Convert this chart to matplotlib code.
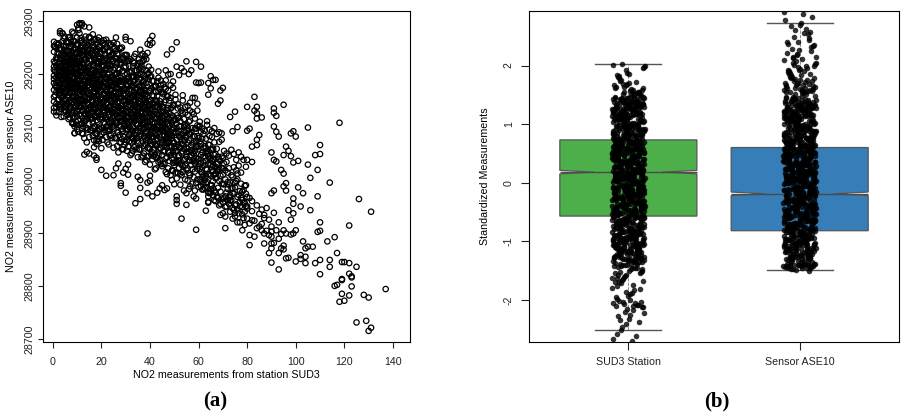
import matplotlib

matplotlib.use("Agg")
import matplotlib.pyplot as plt
import numpy as np

plt.rcParams["font.family"] = ["Liberation Sans", "DejaVu Sans"]

# (a) NO2 at reference station SUD3 (x) against sensor ASE10 (y)
sud3_core = [
    1, 1, 1, 1, 2, 2, 2, 2, 2, 2,
    2, 3, 3, 3, 3, 3, 3, 3, 3, 3,
    4, 4, 4, 4, 4, 4, 4, 4, 4, 4,
    4, 5, 5, 5, 5, 5, 5, 5, 5, 5,
    5, 5, 5, 6, 6, 6, 6, 6, 6, 6,
    6, 6, 6, 6, 6, 7, 7, 7, 7, 7,
    7, 7, 7, 7, 7, 7, 7, 7, 8, 8,
    8, 8, 8, 8, 8, 8, 8, 8, 8, 8,
    8, 9, 9, 9, 9, 9, 9, 9, 9, 9,
    9, 9, 9, 9, 10, 10, 10, 10, 10, 10,
    10, 10, 10, 10, 10, 10, 10, 10, 11, 11,
    11, 11, 11, 11, 11, 11, 11, 11, 11, 11,
    11, 11, 12, 12, 12, 12, 12, 12, 12, 12,
    12, 12, 12, 12, 12, 13, 13, 13, 13, 13,
    13, 13, 13, 13, 13, 13, 13, 13, 14, 14,
    14, 14, 14, 14, 14, 14, 14, 14, 14, 14,
    15, 15, 15, 15, 15, 15, 15, 15, 15, 15,
    15, 15, 16, 16, 16, 16, 16, 16, 16, 16,
    16, 16, 16, 16, 17, 17, 17, 17, 17, 17,
    17, 17, 17, 17, 17, 17, 18, 18, 18, 18,
    18, 18, 18, 18, 18, 18, 18, 18, 19, 19,
    19, 19, 19, 19, 19, 19, 19, 19, 20, 20,
    20, 20, 20, 20, 20, 20, 20, 20, 20, 20,
    21, 21, 21, 21, 21, 21, 21, 21, 21, 21,
    21, 22, 22, 22, 22, 22, 22, 22, 22, 22,
    22, 22, 23, 23, 23, 23, 23, 23, 23, 23,
    23, 23, 23, 24, 24, 24, 24, 24, 24, 24,
    24, 24, 24, 25, 25, 25, 25, 25, 25, 25,
    25, 25, 25, 26, 26, 26, 26, 26, 26, 26,
    26, 26, 26, 27, 27, 27, 27, 27, 27, 27,
    27, 27, 27, 28, 28, 28, 28, 28, 28, 28,
    28, 28, 28, 29, 29, 29, 29, 29, 29, 29,
    29, 29, 29, 30, 30, 30, 30, 30, 30, 30,
    30, 30, 30, 31, 31, 31, 31, 31, 31, 31,
    31, 31, 32, 32, 32, 32, 32, 32, 32, 32,
    32, 32, 33, 33, 33, 33, 33, 33, 33, 33,
    33, 33, 34, 34, 34, 34, 34, 34, 34, 34,
    34, 34, 35, 35, 35, 35, 35, 35, 35, 35,
    35, 35, 36, 36, 36, 36, 36, 36, 36, 36,
    36, 36, 37, 37, 37, 37, 37, 37, 37, 37,
    37, 37, 38, 38, 38, 38, 38, 38, 38, 38,
    38, 38, 39, 39, 39, 39, 39, 39, 39, 39,
    39, 39, 40, 40, 40, 40, 40, 40, 40, 40,
    40, 40, 41, 41, 41, 41, 41, 41, 41, 41,
    41, 41, 42, 42, 42, 42, 42, 42, 42, 42,
    42, 43, 43, 43, 43, 43, 43, 43, 43, 43,
    44, 44, 44, 44, 44, 44, 44, 44, 45, 45,
    45, 45, 45, 45, 45, 45, 46, 46, 46, 46,
    46, 46, 46, 46, 47, 47, 47, 47, 47, 47,
    47, 47, 48, 48, 48, 48, 48, 48, 48, 48,
    49, 49, 49, 49, 49, 49, 49, 50, 50, 50,
    50, 50, 50, 50, 51, 51, 51, 51, 51, 51,
    52, 52, 52, 52, 52, 52, 53, 53, 53, 53,
    53, 53, 54, 54, 54, 54, 54, 55, 55, 55,
    55, 55, 56, 56, 56, 56, 56, 57, 57, 57,
    57, 58, 58, 58, 58, 58, 59, 59, 59, 59,
    59, 60, 60, 60, 60, 60, 61, 61, 61, 61,
    61, 62, 62, 62, 62, 63, 63, 63, 63, 63,
    64, 64, 64, 64, 65, 65, 65, 65, 66, 66,
    66, 66, 67, 67, 67, 67, 68, 68, 68, 69,
    69, 69, 70, 70, 70, 71, 71, 71, 72, 72,
    73, 73, 73, 74, 74, 75, 75, 75, 76, 76,
    77, 77, 78, 78, 79, 79, 80, 80, 81, 81,
    82, 82, 83, 84, 84, 85, 86, 86, 87, 88,
    89, 89, 90, 91, 91, 92, 93, 93, 94, 95,
    3, 5, 6, 7, 9, 10, 12, 13, 14, 16,
    17, 18, 19, 20, 21, 23, 24, 25, 26, 27,
    28, 29, 30, 31, 32, 33, 34, 35, 36, 37,
    38, 39, 40, 41, 42, 43, 44, 45, 46, 47,
    48, 49, 50, 51, 52, 53, 54, 55, 56, 57,
    58, 59, 60, 61, 62, 63, 64, 65, 66, 67,
    60, 62, 64, 66, 68, 70, 72, 74, 76, 78,
    61, 63, 65, 67, 69, 71, 73, 75, 77, 79,
    62, 64, 66, 68, 70, 72, 74, 76, 78, 80,
    8, 10, 12, 14, 16, 18, 20, 22, 24, 26,
    9, 11, 13, 15, 17, 19, 21, 23, 25, 27,
    30, 32, 34, 36, 38, 40, 42, 44, 46, 48,
    31, 33, 35, 37, 39, 41, 43, 45, 47, 49,
    4, 6, 8, 10, 12, 14, 16, 18, 20, 22,
    5, 7, 9, 11, 13, 15, 17, 19, 21, 23,
]
ase10_core = [
    29205, 29178, 29221, 29160, 29198, 29240, 29152, 29213, 29187, 29230,
    29255, 29196, 29170, 29138, 29215, 29248, 29182, 29207, 29228, 29164,
    29201, 29145, 29262, 29188, 29222, 29174, 29236, 29157, 29210, 29192,
    29277, 29199, 29131, 29183, 29246, 29214, 29168, 29225, 29152, 29271,
    29194, 29207, 29238, 29186, 29143, 29260, 29201, 29172, 29229, 29123,
    29215, 29157, 29245, 29193, 29180, 29176, 29208, 29252, 29139, 29221,
    29164, 29197, 29235, 29118, 29188, 29270, 29150, 29212, 29203, 29166,
    29241, 29127, 29184, 29226, 29109, 29195, 29256, 29173, 29218, 29147,
    29280, 29191, 29157, 29232, 29205, 29101, 29262, 29176, 29220, 29138,
    29248, 29185, 29211, 29089, 29199, 29166, 29293, 29230, 29143, 29210,
    29181, 29257, 29120, 29224, 29096, 29188, 29269, 29155, 29295, 29175,
    29213, 29140, 29246, 29198, 29104, 29228, 29162, 29277, 29187, 29124,
    29238, 29170, 29296, 29182, 29149, 29219, 29264, 29107, 29193, 29236,
    29131, 29171, 29250, 29088, 29206, 29290, 29168, 29201, 29142, 29243,
    29186, 29112, 29227, 29265, 29155, 29079, 29210, 29176, 29193, 29130,
    29239, 29167, 29254, 29098, 29208, 29145, 29183, 29222, 29071, 29176,
    29175, 29212, 29133, 29258, 29190, 29106, 29235, 29153, 29081, 29201,
    29163, 29270, 29184, 29129, 29245, 29160, 29207, 29093, 29226, 29172,
    29140, 29261, 29116, 29195, 29168, 29216, 29101, 29250, 29183, 29142,
    29229, 29075, 29197, 29158, 29121, 29264, 29177, 29206, 29134, 29241,
    29159, 29087, 29220, 29190, 29113, 29256, 29148, 29068, 29165, 29199,
    29128, 29234, 29181, 29097, 29252, 29146, 29214, 29073, 29170, 29136,
    29205, 29238, 29157, 29099, 29188, 29262, 29119, 29223, 29181, 29060,
    29162, 29199, 29127, 29245, 29174, 29090, 29216, 29148, 29259, 29108,
    29185, 29155, 29192, 29118, 29230, 29171, 29081, 29207, 29143, 29250,
    29167, 29101, 29176, 29137, 29219, 29158, 29095, 29241, 29186, 29123,
    29203, 29067, 29161, 29148, 29194, 29112, 29236, 29170, 29085, 29215,
    29131, 29256, 29159, 29163, 29121, 29208, 29142, 29247, 29179, 29097,
    29225, 29061, 29154, 29141, 29187, 29108, 29229, 29165, 29079, 29200,
    29124, 29244, 29152, 29155, 29117, 29196, 29138, 29239, 29172, 29090,
    29211, 29146, 29052, 29134, 29180, 29101, 29222, 29157, 29071, 29193,
    29118, 29248, 29166, 29149, 29107, 29188, 29132, 29231, 29169, 29083,
    29206, 29126, 29058, 29128, 29172, 29095, 29214, 29150, 29071, 29187,
    29111, 29236, 29143, 29139, 29096, 29178, 29120, 29225, 29158, 29063,
    29194, 29107, 29125, 29169, 29086, 29203, 29141, 29047, 29182, 29112,
    29228, 29155, 29117, 29160, 29078, 29196, 29134, 29215, 29099, 29148,
    29055, 29176, 29131, 29092, 29174, 29113, 29207, 29148, 29065, 29189,
    29122, 29238, 29105, 29145, 29070, 29185, 29126, 29220, 29093, 29160,
    29043, 29137, 29118, 29083, 29166, 29100, 29199, 29139, 29057, 29178,
    29111, 29212, 29095, 29150, 29074, 29129, 29185, 29106, 29046, 29163,
    29210, 29120, 29108, 29067, 29152, 29125, 29190, 29088, 29034, 29170,
    29099, 29137, 29090, 29144, 29061, 29118, 29176, 29102, 29200, 29079,
    29132, 29045, 29103, 29058, 29142, 29085, 29168, 29120, 29029, 29195,
    29111, 29074, 29096, 29130, 29052, 29160, 29109, 29081, 29187, 29039,
    29122, 29145, 29087, 29116, 29048, 29151, 29099, 29177, 29068, 29129,
    29020, 29078, 29124, 29095, 29159, 29041, 29110, 29186, 29065, 29138,
    29091, 29060, 29133, 29108, 29172, 29037, 29081, 29149, 29070, 29112,
    29047, 29138, 29093, 29165, 29026, 29120, 29083, 29106, 29055, 29147,
    29031, 29098, 29175, 29066, 29074, 29119, 29043, 29094, 29158, 29061,
    29132, 29011, 29088, 29052, 29126, 29073, 29102, 29036, 29150, 29085,
    29064, 29108, 29041, 29137, 29079, 29018, 29095, 29070, 29113, 29047,
    29089, 29141, 29028, 29060, 29055, 29098, 29034, 29122, 29076, 29003,
    29082, 29046, 29118, 29023, 29063, 29101, 29050, 29087, 29029, 29131,
    29068, 29009, 29059, 29092, 29038, 29115, 29073, 29044, 29081, 29019,
    29102, 29060, 29037, 29075, 29013, 29110, 29054, 29066, 29028, 29090,
    29047, 29049, 29083, 29005, 29071, 29124, 29035, 29062, 28994, 29097,
    29042, 29026, 29058, 28987, 29079, 29040, 29047, 29015, 29068, 28999,
    29091, 29033, 29060, 28982, 29009, 29021, 29052, 28994, 29078, 29036,
    29011, 29046, 28976, 29067, 29029, 28990, 29057, 29008, 29017, 28971,
    29040, 28998, 29025, 28960, 29049, 29003, 28985, 29019, 28966, 29008,
    28978, 29036, 28992, 28958, 29022, 29001, 28969, 28949, 28983, 29014,
    28961, 28995, 28940, 28975, 29006, 28952, 28986, 28931, 28968, 28944,
    28979, 28950, 28935, 28962, 28957, 28989, 28927, 28946, 28966, 28918,
    28941, 28960, 28923, 28952, 28909, 28936, 28917, 28944, 28928, 28904,
    28925, 28896, 28912, 28881, 28938, 28905, 28889, 28920, 28898, 28876,
    29142, 29163, 29208, 29230, 29172, 29201, 29180, 29222, 29154, 29199,
    29186, 29196, 29210, 29143, 29226, 29193, 29177, 29190, 29174, 29163,
    29140, 29162, 29120, 29148, 29133, 29129, 29160, 29115, 29149, 29138,
    29142, 29109, 29134, 29115, 29107, 29101, 29118, 29084, 29121, 29105,
    29115, 29084, 29097, 29107, 29035, 29076, 29100, 29053, 29087, 29055,
    29036, 29073, 29064, 29032, 29044, 29061, 29030, 29041, 29028, 29012,
    29100, 29087, 29054, 29059, 29031, 29041, 28996, 28985, 29001, 28978,
    28988, 29007, 28982, 28977, 28955, 29018, 28972, 28995, 28958, 28940,
    28995, 28959, 28984, 29044, 29010, 28962, 28947, 29012, 28949, 28968,
    29233, 29239, 29167, 29204, 29181, 29224, 29194, 29212, 29185, 29157,
    29222, 29216, 29238, 29185, 29202, 29176, 29137, 29110, 29132, 29186,
    29160, 29097, 29142, 29127, 29158, 29150, 29138, 29125, 29092, 29063,
    29082, 29186, 29199, 29176, 29158, 29067, 29148, 29101, 29081, 29122,
    29168, 29199, 29158, 29131, 29244, 29115, 29150, 29121, 29087, 29182,
    29218, 29183, 29120, 29151, 29125, 29122, 29135, 29221, 29203, 29129,
]
# second batch of core readings, at half-unit SUD3 values
sud3_core2 = [
    0.5, 1.5, 2.5, 3.5, 4.5, 5.5, 6.5, 7.5, 8.5, 9.5,
    0.5, 1.5, 2.5, 3.5, 4.5, 5.5, 6.5, 7.5, 8.5, 9.5,
    0.5, 1.5, 2.5, 3.5, 4.5, 5.5, 6.5, 7.5, 8.5, 9.5,
    0.5, 1.5, 2.5, 3.5, 4.5, 5.5, 6.5, 7.5, 8.5, 9.5,
    0.5, 1.5, 2.5, 3.5, 4.5, 5.5, 6.5, 7.5, 8.5, 9.5,
    0.5, 1.5, 2.5, 3.5, 4.5, 5.5, 6.5, 7.5, 8.5, 9.5,
    0.5, 1.5, 2.5, 3.5, 4.5, 5.5, 6.5, 7.5, 8.5, 9.5,
    0.5, 1.5, 2.5, 3.5, 4.5, 5.5, 6.5, 7.5, 8.5, 9.5,
    0.5, 1.5, 2.5, 3.5, 4.5, 5.5, 6.5, 7.5, 8.5, 9.5,
    0.5, 1.5, 2.5, 3.5, 4.5, 5.5, 6.5, 7.5, 8.5, 9.5,
    0.5, 1.5, 2.5, 3.5, 4.5, 5.5, 6.5, 7.5, 8.5, 9.5,
    0.5, 1.5, 2.5, 3.5, 4.5, 5.5, 6.5, 7.5, 8.5, 9.5,
    0.5, 1.5, 2.5, 3.5, 4.5, 5.5, 6.5, 7.5, 8.5, 9.5,
    0.5, 1.5, 2.5, 3.5, 4.5, 5.5, 6.5, 7.5, 8.5, 9.5,
    10.5, 11.5, 12.5, 13.5, 14.5, 15.5, 16.5, 17.5, 18.5, 19.5,
    10.5, 11.5, 12.5, 13.5, 14.5, 15.5, 16.5, 17.5, 18.5, 19.5,
    10.5, 11.5, 12.5, 13.5, 14.5, 15.5, 16.5, 17.5, 18.5, 19.5,
    10.5, 11.5, 12.5, 13.5, 14.5, 15.5, 16.5, 17.5, 18.5, 19.5,
    10.5, 11.5, 12.5, 13.5, 14.5, 15.5, 16.5, 17.5, 18.5, 19.5,
    10.5, 11.5, 12.5, 13.5, 14.5, 15.5, 16.5, 17.5, 18.5, 19.5,
    10.5, 11.5, 12.5, 13.5, 14.5, 15.5, 16.5, 17.5, 18.5, 19.5,
    10.5, 11.5, 12.5, 13.5, 14.5, 15.5, 16.5, 17.5, 18.5, 19.5,
    10.5, 11.5, 12.5, 13.5, 14.5, 15.5, 16.5, 17.5, 18.5, 19.5,
    10.5, 11.5, 12.5, 13.5, 14.5, 15.5, 16.5, 17.5, 18.5, 19.5,
    10.5, 11.5, 12.5, 13.5, 14.5, 15.5, 16.5, 17.5, 18.5, 19.5,
    10.5, 11.5, 12.5, 13.5, 14.5, 15.5, 16.5, 17.5, 18.5, 19.5,
    10.5, 11.5, 12.5, 13.5, 14.5, 15.5, 16.5, 17.5, 18.5, 19.5,
    10.5, 11.5, 12.5, 13.5, 14.5, 15.5, 16.5, 17.5, 18.5, 19.5,
    20.5, 21.5, 22.5, 23.5, 24.5, 25.5, 26.5, 27.5, 28.5, 29.5,
    20.5, 21.5, 22.5, 23.5, 24.5, 25.5, 26.5, 27.5, 28.5, 29.5,
    20.5, 21.5, 22.5, 23.5, 24.5, 25.5, 26.5, 27.5, 28.5, 29.5,
    20.5, 21.5, 22.5, 23.5, 24.5, 25.5, 26.5, 27.5, 28.5, 29.5,
    20.5, 21.5, 22.5, 23.5, 24.5, 25.5, 26.5, 27.5, 28.5, 29.5,
    20.5, 21.5, 22.5, 23.5, 24.5, 25.5, 26.5, 27.5, 28.5, 29.5,
    20.5, 21.5, 22.5, 23.5, 24.5, 25.5, 26.5, 27.5, 28.5, 29.5,
    20.5, 21.5, 22.5, 23.5, 24.5, 25.5, 26.5, 27.5, 28.5, 29.5,
    20.5, 21.5, 22.5, 23.5, 24.5, 25.5, 26.5, 27.5, 28.5, 29.5,
    20.5, 21.5, 22.5, 23.5, 24.5, 25.5, 26.5, 27.5, 28.5, 29.5,
    20.5, 21.5, 22.5, 23.5, 24.5, 25.5, 26.5, 27.5, 28.5, 29.5,
    20.5, 21.5, 22.5, 23.5, 24.5, 25.5, 26.5, 27.5, 28.5, 29.5,
    20.5, 21.5, 22.5, 23.5, 24.5, 25.5, 26.5, 27.5, 28.5, 29.5,
    30.5, 31.5, 32.5, 33.5, 34.5, 35.5, 36.5, 37.5, 38.5, 39.5,
    30.5, 31.5, 32.5, 33.5, 34.5, 35.5, 36.5, 37.5, 38.5, 39.5,
    30.5, 31.5, 32.5, 33.5, 34.5, 35.5, 36.5, 37.5, 38.5, 39.5,
    30.5, 31.5, 32.5, 33.5, 34.5, 35.5, 36.5, 37.5, 38.5, 39.5,
    30.5, 31.5, 32.5, 33.5, 34.5, 35.5, 36.5, 37.5, 38.5, 39.5,
    30.5, 31.5, 32.5, 33.5, 34.5, 35.5, 36.5, 37.5, 38.5, 39.5,
    30.5, 31.5, 32.5, 33.5, 34.5, 35.5, 36.5, 37.5, 38.5, 39.5,
    30.5, 31.5, 32.5, 33.5, 34.5, 35.5, 36.5, 37.5, 38.5, 39.5,
    30.5, 31.5, 32.5, 33.5, 34.5, 35.5, 36.5, 37.5, 38.5, 39.5,
    30.5, 31.5, 32.5, 33.5, 34.5, 35.5, 36.5, 37.5, 38.5, 39.5,
    30.5, 31.5, 32.5, 33.5, 34.5, 35.5, 36.5, 37.5, 38.5, 39.5,
    30.5, 31.5, 32.5, 33.5, 34.5, 35.5, 36.5, 37.5, 38.5, 39.5,
    40.5, 41.5, 42.5, 43.5, 44.5, 45.5, 46.5, 47.5, 48.5, 49.5,
    40.5, 41.5, 42.5, 43.5, 44.5, 45.5, 46.5, 47.5, 48.5, 49.5,
    40.5, 41.5, 42.5, 43.5, 44.5, 45.5, 46.5, 47.5, 48.5, 49.5,
    40.5, 41.5, 42.5, 43.5, 44.5, 45.5, 46.5, 47.5, 48.5, 49.5,
    40.5, 41.5, 42.5, 43.5, 44.5, 45.5, 46.5, 47.5, 48.5, 49.5,
    40.5, 41.5, 42.5, 43.5, 44.5, 45.5, 46.5, 47.5, 48.5, 49.5,
    40.5, 41.5, 42.5, 43.5, 44.5, 45.5, 46.5, 47.5, 48.5, 49.5,
    40.5, 41.5, 42.5, 43.5, 44.5, 45.5, 46.5, 47.5, 48.5, 49.5,
    40.5, 41.5, 42.5, 43.5, 44.5, 45.5, 46.5, 47.5, 48.5, 49.5,
    40.5, 41.5, 42.5, 43.5, 44.5, 45.5, 46.5, 47.5, 48.5, 49.5,
    50.5, 51.5, 52.5, 53.5, 54.5, 55.5, 56.5, 57.5, 58.5, 59.5,
    50.5, 51.5, 52.5, 53.5, 54.5, 55.5, 56.5, 57.5, 58.5, 59.5,
    50.5, 51.5, 52.5, 53.5, 54.5, 55.5, 56.5, 57.5, 58.5, 59.5,
    50.5, 51.5, 52.5, 53.5, 54.5, 55.5, 56.5, 57.5, 58.5, 59.5,
    50.5, 51.5, 52.5, 53.5, 54.5, 55.5, 56.5, 57.5, 58.5, 59.5,
    50.5, 51.5, 52.5, 53.5, 54.5, 55.5, 56.5, 57.5, 58.5, 59.5,
    50.5, 51.5, 52.5, 53.5, 54.5, 55.5, 56.5, 57.5, 58.5, 59.5,
    50.5, 51.5, 52.5, 53.5, 54.5, 55.5, 56.5, 57.5, 58.5, 59.5,
    60.5, 61.5, 62.5, 63.5, 64.5, 65.5, 66.5, 67.5, 68.5, 69.5,
    60.5, 61.5, 62.5, 63.5, 64.5, 65.5, 66.5, 67.5, 68.5, 69.5,
    60.5, 61.5, 62.5, 63.5, 64.5, 65.5, 66.5, 67.5, 68.5, 69.5,
    60.5, 61.5, 62.5, 63.5, 64.5, 65.5, 66.5, 67.5, 68.5, 69.5,
    60.5, 61.5, 62.5, 63.5, 64.5, 65.5, 66.5, 67.5, 68.5, 69.5,
    60.5, 61.5, 62.5, 63.5, 64.5, 65.5, 66.5, 67.5, 68.5, 69.5,
    70.5, 71.5, 72.5, 73.5, 74.5, 75.5, 76.5, 77.5, 78.5, 79.5,
    70.5, 71.5, 72.5, 73.5, 74.5, 75.5, 76.5, 77.5, 78.5, 79.5,
    70.5, 71.5, 72.5, 73.5, 74.5, 75.5, 76.5, 77.5, 78.5, 79.5,
    70.5, 71.5, 72.5, 73.5, 74.5, 75.5, 76.5, 77.5, 78.5, 79.5,
]
ase10_core2 = [
    29183, 29231, 29152, 29204, 29268, 29139, 29217, 29175, 29246, 29126,
    29242, 29166, 29211, 29134, 29190, 29253, 29160, 29228, 29117, 29199,
    29157, 29203, 29258, 29181, 29144, 29222, 29269, 29136, 29185, 29241,
    29214, 29128, 29176, 29237, 29209, 29165, 29132, 29252, 29204, 29158,
    29136, 29249, 29193, 29161, 29226, 29189, 29244, 29207, 29129, 29218,
    29197, 29184, 29238, 29119, 29171, 29241, 29148, 29180, 29262, 29137,
    29261, 29144, 29168, 29213, 29252, 29130, 29196, 29265, 29168, 29226,
    29170, 29216, 29129, 29188, 29137, 29206, 29231, 29145, 29223, 29174,
    29224, 29137, 29247, 29156, 29195, 29260, 29177, 29213, 29141, 29255,
    29148, 29193, 29183, 29229, 29164, 29152, 29115, 29236, 29192, 29110,
    29208, 29258, 29141, 29174, 29239, 29197, 29259, 29124, 29277, 29186,
    29129, 29175, 29221, 29248, 29120, 29234, 29186, 29198, 29159, 29239,
    29253, 29122, 29206, 29142, 29183, 29144, 29209, 29172, 29232, 29149,
    29191, 29227, 29162, 29197, 29158, 29216, 29127, 29250, 29106, 29204,
    29176, 29225, 29101, 29258, 29142, 29194, 29083, 29236, 29160, 29115,
    29283, 29152, 29207, 29124, 29246, 29170, 29217, 29137, 29264, 29188,
    29134, 29262, 29168, 29189, 29095, 29228, 29149, 29203, 29077, 29241,
    29219, 29106, 29245, 29157, 29211, 29118, 29255, 29176, 29129, 29167,
    29160, 29197, 29131, 29271, 29178, 29247, 29107, 29154, 29222, 29096,
    29287, 29140, 29186, 29112, 29233, 29161, 29192, 29088, 29185, 29252,
    29112, 29249, 29219, 29171, 29125, 29204, 29136, 29266, 29110, 29139,
    29198, 29169, 29087, 29236, 29196, 29094, 29239, 29119, 29201, 29208,
    29243, 29121, 29152, 29205, 29255, 29183, 29165, 29227, 29150, 29082,
    29150, 29213, 29235, 29098, 29163, 29138, 29275, 29145, 29247, 29178,
    29091, 29181, 29117, 29227, 29143, 29268, 29124, 29189, 29127, 29229,
    29229, 29268, 29196, 29149, 29117, 29216, 29208, 29101, 29172, 29123,
    29165, 29137, 29174, 29251, 29206, 29126, 29149, 29244, 29093, 29190,
    29256, 29202, 29143, 29133, 29184, 29240, 29098, 29172, 29231, 29152,
    29152, 29208, 29093, 29243, 29126, 29181, 29064, 29219, 29140, 29101,
    29246, 29131, 29190, 29107, 29229, 29158, 29201, 29118, 29250, 29170,
    29118, 29237, 29146, 29172, 29079, 29212, 29128, 29186, 29058, 29224,
    29201, 29094, 29228, 29139, 29193, 29103, 29238, 29157, 29112, 29149,
    29139, 29175, 29115, 29255, 29160, 29231, 29090, 29137, 29205, 29081,
    29258, 29122, 29167, 29095, 29216, 29144, 29175, 29071, 29168, 29236,
    29098, 29226, 29200, 29153, 29109, 29187, 29119, 29249, 29096, 29122,
    29177, 29150, 29071, 29217, 29178, 29079, 29222, 29102, 29185, 29191,
    29223, 29106, 29134, 29188, 29238, 29166, 29147, 29208, 29133, 29066,
    29131, 29194, 29216, 29083, 29145, 29121, 29257, 29128, 29229, 29162,
    29076, 29163, 29101, 29209, 29127, 29250, 29107, 29172, 29111, 29212,
    29213, 29247, 29179, 29132, 29100, 29199, 29191, 29085, 29155, 29106,
    29146, 29118, 29157, 29233, 29188, 29110, 29132, 29227, 29077, 29173,
    29128, 29186, 29071, 29221, 29104, 29159, 29043, 29197, 29118, 29081,
    29224, 29109, 29168, 29086, 29207, 29136, 29179, 29097, 29228, 29148,
    29096, 29215, 29124, 29150, 29058, 29190, 29106, 29164, 29037, 29202,
    29179, 29073, 29206, 29117, 29171, 29082, 29216, 29135, 29091, 29127,
    29117, 29153, 29093, 29233, 29138, 29209, 29069, 29115, 29183, 29060,
    29236, 29100, 29145, 29074, 29194, 29122, 29153, 29050, 29146, 29214,
    29076, 29204, 29178, 29131, 29088, 29165, 29098, 29227, 29075, 29101,
    29155, 29128, 29050, 29195, 29156, 29058, 29200, 29081, 29163, 29169,
    29201, 29085, 29112, 29166, 29216, 29144, 29125, 29186, 29112, 29045,
    29109, 29172, 29194, 29062, 29123, 29099, 29235, 29107, 29207, 29140,
    29055, 29141, 29080, 29187, 29105, 29228, 29086, 29150, 29090, 29190,
    29191, 29225, 29157, 29110, 29079, 29177, 29169, 29064, 29133, 29085,
    29100, 29158, 29043, 29193, 29076, 29131, 29015, 29169, 29090, 29053,
    29196, 29081, 29140, 29058, 29179, 29108, 29151, 29069, 29200, 29120,
    29068, 29187, 29096, 29122, 29030, 29162, 29078, 29136, 29009, 29174,
    29151, 29045, 29178, 29089, 29143, 29054, 29188, 29107, 29063, 29099,
    29089, 29125, 29065, 29205, 29110, 29181, 29041, 29087, 29155, 29032,
    29208, 29072, 29117, 29046, 29166, 29094, 29125, 29022, 29118, 29186,
    29048, 29176, 29150, 29103, 29060, 29137, 29070, 29199, 29047, 29073,
    29127, 29100, 29022, 29167, 29128, 29030, 29172, 29053, 29135, 29141,
    29173, 29057, 29084, 29138, 29188, 29116, 29097, 29158, 29084, 29017,
    29081, 29144, 29166, 29034, 29095, 29071, 29207, 29079, 29179, 29112,
    29064, 29117, 29012, 29150, 29040, 29093, 28988, 29128, 29055, 29021,
    29152, 29045, 29101, 29026, 29138, 29071, 29112, 29036, 29155, 29083,
    29033, 29143, 29061, 29085, 29001, 29123, 29043, 29098, 28980, 29131,
    29113, 29013, 29137, 29054, 29104, 29022, 29146, 29069, 29031, 29062,
    29054, 29088, 29031, 29160, 29075, 29140, 29009, 29052, 29116, 29001,
    29161, 29037, 29081, 29015, 29127, 29059, 29087, 28993, 29082, 29144,
    29014, 29135, 29111, 29067, 29027, 29099, 29037, 29155, 29016, 29039,
    29091, 29066, 28991, 29126, 29090, 28999, 29131, 29020, 29097, 29103,
    29030, 29078, 28985, 29104, 29010, 29057, 28962, 29087, 29021, 28993,
    29102, 29012, 29064, 28996, 29095, 29036, 29071, 29004, 29090, 29044,
    29001, 29097, 29028, 29049, 28975, 29081, 29010, 29059, 28952, 29076,
    29073, 28982, 29093, 29020, 29066, 28990, 29098, 29031, 28998, 29022,
    29021, 29052, 29000, 29111, 29040, 29092, 28980, 29016, 29072, 28965,
    29110, 29005, 29045, 28986, 29083, 29024, 29047, 28968, 29039, 29088,
    28992, 29034, 28955, 29057, 28974, 29018, 28937, 29044, 28981, 28951,
    29055, 28976, 29022, 28962, 29049, 28998, 29027, 28966, 29038, 28990,
    28965, 29050, 28991, 29009, 28944, 29038, 28972, 29014, 28928, 29025,
    29031, 28950, 29046, 28985, 29024, 28954, 29052, 28993, 28957, 28974,
]
sud3_tail = [
    137, 131, 126, 118, 122, 116, 113, 117, 114, 114,
    110, 110, 116, 117, 119, 120, 122, 122, 123, 123,
    119, 119, 123, 125, 119, 118, 120, 122, 128, 130,
    125, 129, 131, 130, 110, 109, 110, 109, 109, 110,
    108, 110, 114, 106, 105, 106, 103, 105, 101, 101,
    102, 99, 98, 100, 96, 97, 98, 99, 95, 95,
    91, 92, 91, 91, 92, 93, 90, 91, 92, 94,
    95, 91, 90, 96, 95, 96, 99, 99, 97, 99,
    98, 93, 90, 93, 95, 94, 96, 97, 100, 102,
    104, 104, 102, 105, 107, 108, 103, 104, 99, 100,
    98, 96, 95, 90, 90, 90, 89, 90, 87, 87,
    81, 81, 83, 87, 88, 83, 84, 83, 84, 84,
    86, 80, 81, 80, 85, 84, 84, 82, 80, 82,
    73, 75, 76, 74, 69, 70, 66, 67, 65, 64,
    65, 64, 69, 68, 61, 59, 55, 53, 54, 56,
    57, 51, 52, 60, 59, 61, 51, 49, 47, 41,
    40, 41, 40, 39, 36, 39, 37, 38, 36, 37,
    30, 32, 30, 26, 23, 25, 22, 19, 21, 15,
    15, 3, 4, 3, 2, 1, 8, 9, 10, 13,
    14, 15, 17, 18, 18, 17, 18, 20, 22, 25,
    26, 27, 28, 28, 30, 31, 31, 29, 30, 34,
    36, 36, 36, 35, 39, 39, 41, 43, 44, 39,
    40, 40, 45, 46, 47, 50, 49, 51, 51, 51,
    53, 55, 55, 56, 54, 59, 58, 59, 63, 64,
    64, 65, 69, 70, 71, 71, 72, 73, 75, 76,
    77, 74, 78, 79, 82, 85, 86, 80, 12, 11,
]
ase10_tail = [
    28794, 28940, 28964, 29108, 28914, 28892, 28884, 28862, 28849, 28836,
    28849, 28822, 28800, 28802, 28845, 28845, 28843, 28823, 28818, 28816,
    28811, 28813, 28799, 28836, 28785, 28770, 28772, 28782, 28783, 28778,
    28731, 28734, 28721, 28715, 28904, 28902, 28920, 28969, 29019, 29049,
    29047, 29066, 28995, 29004, 29029, 28943, 28975, 29099, 29036, 28986,
    28950, 29092, 29088, 29082, 29063, 29055, 29045, 29033, 29047, 29142,
    29135, 29121, 29127, 29101, 29091, 29082, 29052, 29038, 29035, 29019,
    29012, 28980, 28975, 28994, 28988, 28980, 28965, 28955, 28943, 28937,
    28925, 28831, 28844, 28862, 28869, 28871, 28852, 28853, 28846, 28851,
    28855, 28843, 28858, 28874, 28874, 28843, 28884, 28871, 28899, 28905,
    28897, 28899, 28905, 28893, 28902, 28880, 28862, 28871, 28880, 28899,
    28896, 28877, 28893, 28934, 28947, 29157, 29138, 29131, 29126, 29116,
    29118, 29138, 29097, 29093, 29085, 29076, 29066, 29063, 29038, 29034,
    29119, 29129, 29100, 29092, 29169, 29174, 29189, 29189, 29196, 29183,
    29173, 29161, 29150, 29144, 29214, 29223, 29224, 29211, 29205, 29200,
    29207, 29214, 29198, 29183, 29184, 29184, 29260, 29247, 29237, 29272,
    29264, 29259, 29255, 29257, 29246, 29240, 29238, 29234, 29222, 29224,
    29270, 29262, 29265, 29269, 29259, 29259, 29265, 29269, 29264, 29270,
    29288, 29281, 29277, 29277, 29255, 29252, 29107, 29088, 29104, 29048,
    29053, 29050, 29062, 29074, 29038, 29046, 29042, 29019, 29008, 29009,
    29022, 29031, 28994, 28989, 28976, 29010, 29029, 29014, 29021, 28956,
    28964, 28985, 29000, 29006, 28899, 28975, 28969, 28976, 28984, 28995,
    28998, 29008, 28990, 28981, 28984, 28992, 29000, 28955, 28962, 28969,
    28927, 28953, 28975, 28983, 28980, 28906, 28969, 28965, 28942, 28957,
    28969, 28976, 28934, 28937, 28931, 28909, 28963, 28967, 28938, 28920,
    28920, 28927, 28905, 28915, 28924, 28912, 28905, 28950, 29293, 29296,
]

# (b) standardized measurements shown as jittered points over notched boxes
sud3_std = [
    0.42, -0.87, 1.13, -0.21, 0.76, -1.09, 0.05, 1.38, -0.55, 0.29, -0.96, 0.88, -0.12, 1.21, -0.68, 0.51, -1.18, 0.17, 0.97, -0.34,
    1.05, -0.44, 0.23, -1.02, 0.66, 1.44, -0.79, 0.11, -0.27, 0.84, -1.22, 0.38, 1.17, -0.61, 0.02, -0.93, 0.71, 1.31, -0.16, 0.47,
    -0.73, 0.93, -0.05, 1.26, -1.14, 0.31, -0.39, 0.62, 1.02, -0.84, 0.14, -0.58, 1.36, -0.24, 0.79, -1.05, 0.45, 0.07, -0.49, 1.09,
    0.26, -0.99, 1.41, -0.31, 0.58, -0.71, 0.91, -0.08, 1.19, -1.2, 0.36, -0.45, 0.73, 1.29, -0.89, 0.09, -0.18, 0.99, -0.64, 0.53,
    -0.37, 1.24, -0.92, 0.19, 0.82, -1.16, 0.44, -0.02, 1.33, -0.53, 0.68, -0.76, 1.07, 0.12, -1.04, 0.57, -0.29, 0.89, 1.46, -0.66,
    0.64, -0.14, -1.07, 1.15, 0.33, -0.82, 0.95, -0.41, 0.21, 1.39, -0.6, 0.03, -1.23, 0.77, -0.26, 1.11, 0.48, -0.95, 0.16, -0.47,
    1.28, -0.74, 0.39, -0.09, 0.85, -1.13, 0.24, 1.02, -0.52, 0.61, -0.33, 1.35, -0.86, 0.13, 0.72, -1.0, 0.46, -0.19, 1.19, -0.63,
    -0.23, 0.55, -1.19, 0.96, 0.08, -0.67, 1.42, -0.36, 0.3, -0.91, 0.81, 1.22, -0.11, 0.41, -1.06, 0.67, -0.5, 1.04, 0.2, -0.8,
    0.87, -0.57, 0.15, 1.32, -0.97, 0.5, -0.3, 1.09, -1.15, 0.27, 0.74, -0.43, 1.45, -0.06, -0.78, 0.6, 0.01, -1.01, 1.14, 0.35,
    -1.11, 0.7, -0.2, 1.25, 0.43, -0.62, 0.92, -0.94, 0.18, 1.37, -0.38, 0.04, -0.83, 0.63, 1.06, -0.15, 0.32, -1.24, 0.86, -0.48,
    0.52, 1.16, -0.7, -0.04, 0.9, -1.08, 0.37, -0.25, 1.3, -0.56, 0.22, 0.78, -0.98, 0.1, 1.43, -0.42, 0.65, -0.13, -0.85, 1.01,
    -0.32, 0.98, 0.28, -1.17, 0.59, -0.51, 1.23, 0.06, -0.75, 0.83, -0.07, 1.4, -1.03, 0.49, -0.22, 0.75, -0.88, 1.12, 0.16, -0.6,
    1.08, -0.17, 0.56, -0.9, 0.25, 1.34, -0.46, 0.69, -1.21, 0.0, 0.94, -0.65, 1.2, -0.35, 0.4, -0.81, 1.03, -0.1, 0.6, -1.06,
    0.34, -0.79, 1.18, -0.28, 0.8, -1.12, 0.12, 0.88, -0.54, 1.36, -0.01, -0.93, 0.47, 1.0, -0.4, 0.21, -1.19, 0.72, -0.16, 1.27,
    -0.59, 0.44, -0.03, 1.1, -0.87, 0.66, 0.19, -1.09, 1.44, -0.24, 0.53, -0.69, 0.9, 0.08, -0.45, 1.22, -0.97, 0.31, 0.77, -0.12,
    0.95, -1.0, 0.38, -0.37, 1.31, 0.14, -0.72, 0.71, -0.2, 1.05, -1.14, 0.5, -0.58, 1.17, 0.27, -0.84, 0.62, -0.08, 1.39, -0.49,
    0.18, 1.13, -0.63, 0.43, -1.16, 0.84, -0.11, 0.58, -0.9, 1.26, 0.05, -0.31, 0.99, -0.77, 0.36, 1.42, -0.53, 0.23, -1.04, 0.67,
    -0.44, 0.79, 1.07, -0.95, 0.11, -0.23, 0.93, -1.22, 0.54, 1.29, -0.66, 0.29, -0.05, 0.85, -0.82, 1.15, 0.41, -1.07, 0.16, -0.34,
    1.34, -0.27, 0.64, -1.03, 0.22, 0.97, -0.52, 1.19, -0.14, 0.46, -0.88, 0.74, 1.41, -0.62, 0.03, -1.13, 0.56, -0.39, 1.02, 0.32,
    -0.76, 0.15, 1.21, -0.47, 0.82, -0.99, 0.37, -0.09, 1.08, -0.7, 0.61, 0.24, -1.18, 0.9, -0.29, 1.32, -0.56, 0.07, 0.69, -0.92,
    0.49, -1.1, 0.86, -0.18, 1.25, -0.64, 0.13, 0.76, -0.41, 1.37, -0.02, -0.85, 0.55, 1.11, -0.33, 0.26, -1.25, 0.8, -0.7, 0.4,
    1.0, -0.5, 0.34, -0.94, 0.63, 1.18, -0.26, 0.09, -0.78, 0.96, -1.05, 0.45, 1.3, -0.13, 0.7, -0.61, 0.19, 1.46, -0.36, -1.15,
    0.57, -1.13, 0.02, 1.27, -0.42, 0.83, -0.79, 0.31, 1.06, -0.22, 0.68, -1.04, 1.41, -0.58, 0.15, 0.94, -0.35, 1.18, -0.9, 0.44,
    -0.06, 1.33, -0.67, 0.26, -1.2, 0.79, 0.5, -0.3, 1.12, -0.86, 0.37, 1.45, -0.48, 0.09, -1.07, 0.72, -0.15, 1.0, -0.73, 0.2,
    1.22, -0.39, 0.61, -0.97, 0.04, 1.37, -0.62, 0.88, -0.11, -1.23, 0.47, 1.09, -0.28, 0.66, -0.84, 0.13, 1.29, -0.55, 0.35, -1.0,
    0.76, -0.2, -0.93, 1.15, 0.28, -0.69, 0.97, -0.44, 0.07, 1.4, -1.16, 0.55, -0.04, 0.83, -0.6, 1.21, 0.18, -0.81, 0.63, -0.33,
    -1.09, 0.92, 0.39, -0.52, 1.3, -0.17, 0.7, -0.95, 0.11, 1.04, -0.36, 0.46, -1.21, 0.86, -0.08, 1.36, -0.71, 0.24, -0.47, 1.13,
    0.33, 1.19, -0.76, -0.01, 0.59, -1.12, 1.44, -0.26, 0.8, -0.63, 0.17, 0.99, -0.9, 0.42, -0.13, 1.26, -0.5, 0.69, -1.03, 0.06,
    1.07, -0.57, 0.22, -0.88, 1.34, 0.49, -0.24, -1.18, 0.75, 0.01, 1.17, -0.41, 0.58, -0.78, 1.43, -0.1, 0.32, -0.99, 0.9, -0.31,
    -0.65, 0.12, 1.24, -0.37, 0.85, -1.06, 0.4, -0.14, 1.02, -0.74, 0.64, 0.27, -1.24, 0.96, -0.45, 1.31, -0.05, 0.53, -0.83, 1.11,
    0.45, -0.92, 1.38, -0.19, 0.73, -0.56, 0.08, 1.14, -1.14, 0.36, -0.29, 0.91, -0.7, 1.2, 0.19, -0.49, 0.62, -1.01, 0.03, 1.28,
    -0.27, 0.98, -0.82, 0.54, -0.02, 1.42, -0.61, 0.29, -1.11, 0.77, 1.05, -0.38, 0.14, -0.87, 0.67, 1.25, -0.16, 0.43, -0.68, 0.89,
    1.16, -1.05, 0.25, -0.43, 0.84, 0.0, -0.77, 1.33, 0.51, -0.21, -0.97, 0.7, 1.46, -0.53, 0.1, -1.19, 0.95, 0.38, -0.32, 0.6,
    -0.46, 0.81, 1.1, -0.89, 0.34, -0.12, 1.23, -0.66, 0.56, -1.17, 0.16, 0.93, -0.25, 1.35, -0.8, 0.41, -0.03, 1.03, -0.59, 0.21,
    0.66, -0.34, 0.05, 1.3, -1.02, 0.48, -0.7, 0.87, 1.19, -0.18, 0.3, -0.94, 1.39, -0.51, 0.74, -0.07, -1.22, 0.58, 1.01, -0.4,
    0.12, 1.27, -0.58, 0.8, -0.23, -1.08, 0.97, 0.37, -0.75, 1.08, -0.09, 0.52, -0.96, 1.44, 0.23, -0.62, 0.71, -0.3, 1.17, -0.85,
    0.9, -0.14, -0.8, 0.5, 1.36, -0.44, 0.18, -1.15, 0.65, 1.12, -0.36, 0.03, -0.64, 1.24, 0.39, -0.98, 0.82, -0.2, 0.27, -0.54,
    1.52, 1.61, 1.49, 1.78, 1.55, 1.92, 1.67, 1.5, 2.03, 1.58, 1.71, 1.84, 1.53, 1.64, 1.99, 1.56, 1.74, 1.48, 1.88, 1.62,
    1.51, 1.69, 1.95, 1.57, 1.8, 1.54, 1.66, 2.01, 1.59, 1.76, 1.5, 1.86, 1.63, 1.72, 1.55, 1.97, 1.6, 1.82, 1.53, 1.68,
    -1.27, -1.35, -1.29, -1.48, -1.31, -1.62, -1.26, -1.41, -1.79, -1.33, -1.53, -1.28, -1.93, -1.37, -1.45, -1.3, -1.68, -1.39, -1.57, -1.26,
    -1.86, -1.43, -1.34, -1.72, -1.29, -1.5, -1.98, -1.38, -1.61, -1.32, -1.46, -1.27, -1.82, -1.4, -1.55, -1.3, -1.66, -1.36, -1.9, -1.44,
    -1.28, -1.59, -1.33, -1.75, -1.42, -1.52, -1.31, -1.95, -1.37, -1.64, -1.27, -1.47, -1.7, -1.35, -1.58, -1.29, -1.84, -1.4, -1.51, -1.32,
    -1.77, -1.45, -1.3, -1.63, -1.88, -1.38, -1.54, -1.34, -1.69, -1.26,
    -2.04, -2.13, -2.01, -2.27, -2.09, -2.41, -2.06, -2.18, -2.52, -2.03, -2.33, -2.11, -2.62, -2.07, -2.22, -2.71, -2.02, -2.38, -2.15, -2.79,
    -2.05, -2.47, -2.12, -2.26, -2.58, -2.08, -2.2, -2.67, -2.1, -2.35,
]
ase10_std = [
    0.37, -0.92, 1.21, -0.15, 0.68, -1.31, 0.04, 1.45, -0.6, 0.27, -1.08, 0.93, -0.33, 1.12, -0.76, 0.49, -1.22, 0.14, 0.85, -0.45,
    1.03, -0.51, 0.2, -1.15, 0.6, 1.38, -0.84, 0.09, -0.29, 0.77, -1.36, 0.33, 1.19, -0.68, -0.02, -0.99, 0.71, 1.29, -0.2, 0.44,
    -0.8, 0.9, -0.09, 1.24, -1.27, 0.25, -0.41, 0.56, 1.0, -0.95, 0.11, -0.63, 1.34, -0.26, 0.74, -1.12, 0.42, 0.02, -0.54, 1.07,
    0.23, -1.04, 1.43, -0.36, 0.52, -0.77, 0.88, -0.12, 1.16, -1.33, 0.31, -0.49, 0.66, 1.27, -0.93, 0.06, -0.22, 0.96, -0.7, 0.47,
    -0.4, 1.2, -1.0, 0.16, 0.79, -1.24, 0.39, -0.06, 1.31, -0.58, 0.62, -0.83, 1.05, 0.1, -1.11, 0.54, -0.32, 0.86, 1.48, -0.72,
    0.58, -0.18, -1.19, 1.13, 0.28, -0.88, 0.91, -0.46, 0.18, 1.36, -0.65, -0.01, -1.35, 0.73, -0.3, 1.08, 0.43, -1.02, 0.12, -0.52,
    1.25, -0.79, 0.35, -0.13, 0.82, -1.21, 0.19, 0.98, -0.57, 0.55, -0.37, 1.32, -0.91, 0.08, 0.69, -1.07, 0.41, -0.24, 1.15, -0.67,
    -0.27, 0.5, -1.29, 0.92, 0.03, -0.74, 1.4, -0.42, 0.26, -0.97, 0.76, 1.18, -0.16, 0.36, -1.14, 0.63, -0.55, 1.01, 0.15, -0.86,
    0.84, -0.62, 0.1, 1.3, -1.05, 0.45, -0.35, 1.06, -1.26, 0.22, 0.7, -0.48, 1.46, -0.1, -0.82, 0.57, -0.04, -1.09, 1.11, 0.3,
    -1.17, 0.67, -0.25, 1.22, 0.38, -0.69, 0.89, -1.01, 0.13, 1.35, -0.43, 0.0, -0.89, 0.6, 1.04, -0.19, 0.28, -1.37, 0.83, -0.53,
    0.48, 1.14, -0.75, -0.08, 0.87, -1.18, 0.33, -0.3, 1.28, -0.61, 0.17, 0.75, -1.06, 0.05, 1.42, -0.47, 0.61, -0.17, -0.9, 0.99,
    -0.37, 0.95, 0.24, -1.28, 0.53, -0.56, 1.2, 0.01, -0.81, 0.8, -0.11, 1.37, -1.13, 0.46, -0.27, 0.72, -0.95, 1.09, 0.12, -0.66,
    1.05, -0.21, 0.52, -0.98, 0.2, 1.31, -0.5, 0.65, -1.32, -0.03, 0.91, -0.71, 1.17, -0.39, 0.36, -0.87, 1.0, -0.14, 0.57, -1.16,
    0.3, -0.85, 1.16, -0.33, 0.77, -1.23, 0.08, 0.85, -0.59, 1.33, -0.05, -1.0, 0.43, 0.97, -0.45, 0.17, -1.3, 0.68, -0.2, 1.24,
    -0.64, 0.4, -0.07, 1.07, -0.93, 0.63, 0.14, -1.2, 1.41, -0.28, 0.49, -0.76, 0.87, 0.04, -0.5, 1.19, -1.04, 0.27, 0.74, -0.16,
    0.92, -1.1, 0.34, -0.42, 1.28, 0.1, -0.78, 0.67, -0.24, 1.02, -1.25, 0.46, -0.63, 1.14, 0.23, -0.9, 0.59, -0.12, 1.36, -0.54,
    0.14, 1.1, -0.68, 0.39, -1.28, 0.81, -0.15, 0.54, -0.96, 1.23, 0.01, -0.35, 0.96, -0.83, 0.32, 1.39, -0.58, 0.19, -1.14, 0.63,
    -0.49, 0.76, 1.04, -1.03, 0.07, -0.28, 0.9, -1.34, 0.5, 1.26, -0.72, 0.25, -0.09, 0.82, -0.88, 1.12, 0.37, -1.19, 0.12, -0.39,
    1.31, -0.31, 0.6, -1.12, 0.18, 0.94, -0.57, 1.16, -0.18, 0.42, -0.94, 0.71, 1.38, -0.67, -0.01, -1.24, 0.52, -0.44, 0.99, 0.28,
    -0.81, 0.11, 1.18, -0.52, 0.78, -1.06, 0.33, -0.13, 1.05, -0.75, 0.58, 0.2, -1.3, 0.87, -0.33, 1.29, -0.61, 0.03, 0.65, -0.98,
    0.45, -1.18, 0.83, -0.22, 1.22, -0.7, 0.09, 0.72, -0.46, 1.34, -0.06, -0.91, 0.51, 1.08, -0.38, 0.22, -1.38, 0.77, -0.76, 0.36,
    0.97, -0.55, 0.3, -1.01, 0.59, 1.15, -0.31, 0.05, -0.84, 0.93, -1.15, 0.41, 1.27, -0.17, 0.66, -0.67, 0.15, 1.44, -0.41, -1.27,
    0.52, -1.21, 0.0, 1.24, -0.47, 0.8, -0.86, 0.29, 1.03, -0.27, 0.65, -1.11, 1.42, -0.64, 0.12, 0.91, -0.4, 1.16, -0.97, 0.41,
    -0.1, 1.3, -0.73, 0.23, -1.29, 0.76, 0.47, -0.35, 1.09, -0.93, 0.34, 1.47, -0.54, 0.06, -1.16, 0.69, -0.2, 0.98, -0.8, 0.17,
    1.19, -0.44, 0.58, -1.05, 0.01, 1.35, -0.69, 0.85, -0.16, -1.33, 0.44, 1.06, -0.33, 0.63, -0.91, 0.1, 1.27, -0.6, 0.32, -1.08,
    0.73, -0.25, -1.01, 1.12, 0.25, -0.76, 0.94, -0.5, 0.04, 1.39, -1.25, 0.52, -0.08, 0.8, -0.66, 1.18, 0.15, -0.88, 0.6, -0.38,
    -1.17, 0.89, 0.36, -0.58, 1.27, -0.22, 0.67, -1.03, 0.08, 1.01, -0.41, 0.43, -1.31, 0.83, -0.12, 1.34, -0.78, 0.21, -0.53, 1.1,
    0.3, 1.16, -0.83, -0.05, 0.56, -1.2, 1.45, -0.31, 0.77, -0.7, 0.14, 0.96, -0.98, 0.39, -0.18, 1.23, -0.56, 0.66, -1.11, 0.03,
    1.04, -0.63, 0.19, -0.95, 1.31, 0.46, -0.29, -1.27, 0.72, -0.02, 1.14, -0.47, 0.55, -0.85, 1.41, -0.14, 0.29, -1.07, 0.87, -0.36,
    -0.71, 0.09, 1.21, -0.42, 0.82, -1.14, 0.37, -0.19, 0.99, -0.81, 0.61, 0.24, -1.36, 0.93, -0.51, 1.28, -0.09, 0.5, -0.9, 1.08,
    0.42, -1.0, 1.36, -0.24, 0.7, -0.62, 0.05, 1.11, -1.23, 0.33, -0.34, 0.88, -0.77, 1.17, 0.16, -0.55, 0.59, -1.09, 0.0, 1.25,
    -0.32, 0.95, -0.89, 0.51, -0.06, 1.4, -0.67, 0.26, -1.19, 0.74, 1.02, -0.43, 0.11, -0.94, 0.64, 1.22, -0.21, 0.4, -0.74, 0.86,
    1.13, -1.13, 0.22, -0.48, 0.81, -0.03, -0.84, 1.3, 0.48, -0.26, -1.04, 0.67, 1.48, -0.59, 0.07, -1.28, 0.92, 0.35, -0.37, 0.57,
    -0.51, 0.78, 1.07, -0.96, 0.31, -0.16, 1.2, -0.72, 0.53, -1.26, 0.13, 0.9, -0.3, 1.33, -0.87, 0.38, -0.07, 1.0, -0.65, 0.18,
    0.63, -0.39, 0.02, 1.27, -1.1, 0.45, -0.77, 0.84, 1.16, -0.23, 0.27, -1.02, 1.37, -0.57, 0.71, -0.11, -1.32, 0.55, 0.98, -0.45,
    0.09, 1.24, -0.64, 0.77, -0.28, -1.16, 0.94, 0.34, -0.82, 1.05, -0.13, 0.49, -1.04, 1.43, 0.2, -0.69, 0.68, -0.35, 1.14, -0.92,
    0.87, -0.19, -0.87, 0.47, 1.33, -0.49, 0.15, -1.24, 0.62, 1.09, -0.41, 0.0, -0.7, 1.21, 0.36, -1.06, 0.79, -0.25, 0.24, -0.6,
    1.52, 1.63, 1.55, 1.81, 1.58, 1.97, 1.7, 1.54, 2.12, 1.6, 1.75, 1.89, 1.57, 1.67, 2.05, 1.53, 1.78, 2.31, 1.92, 1.64,
    1.51, 1.73, 2.0, 1.59, 1.85, 2.44, 1.68, 2.09, 1.62, 1.8, 1.56, 1.94, 2.22, 1.76, 1.61, 2.02, 1.66, 1.87, 2.58, 1.71,
    1.54, 1.99, 2.15, 1.65, 1.83, 2.37, 1.69, 2.07, 1.58, 1.9, 2.67, 1.74, 2.27, 1.62, 1.96, 2.49, 1.79, 2.11, 1.55, 1.86,
    2.19, 2.78, 1.72, 2.04, 2.33, 1.6, 1.93, 2.53, 1.77, 2.14, 2.88, 1.84, 2.25, 2.41, 1.67, 2.63, 2.01, 2.35, 2.72, 1.91,
    2.47, 2.18, 2.92, 2.56, 2.29, 2.83, 2.69, 2.4, 2.96, 2.61,
    -1.39, -1.42, -1.4, -1.46, -1.41, -1.44, -1.39, -1.48, -1.43, -1.4, -1.45, -1.41, -1.49, -1.42, -1.39, -1.47, -1.44, -1.4, -1.43, -1.46,
    -1.41, -1.38, -1.45, -1.42, -1.5,
]

groups = ["SUD3 Station", "Sensor ASE10"]
box_colors = ["#4DAF4A", "#377EB8"]
box_med = [0.18, -0.19]
box_q1 = [-0.57, -0.82]
box_q3 = [0.73, 0.60]
box_whislo = [-2.52, -1.49]
box_whishi = [2.03, 2.72]
notch_lo = [0.15, -0.22]
notch_hi = [0.21, -0.16]

TEXT = 7.7


def style_axes(ax):
    for spine in ax.spines.values():
        spine.set_linewidth(0.8)
        spine.set_color("black")
    ax.tick_params(direction="out", width=0.8, labelsize=TEXT, colors="#222222")


fig = plt.figure(figsize=(9.06, 4.2), dpi=100)

# panel (a)
ax1 = fig.add_axes([0.0475, 0.1857, 0.405, 0.788])
ax1.scatter(
    sud3_core + sud3_core2 + sud3_tail,
    ase10_core + ase10_core2 + ase10_tail,
    s=15,
    facecolors="none",
    edgecolors="black",
    linewidths=0.9,
)
ax1.set_xlim(-4, 147)
ax1.set_ylim(28694, 29319)
ax1.set_xticks(range(0, 141, 20))
yt = list(range(28700, 29301, 100))
ax1.set_yticks(yt)
ax1.set_yticklabels([str(v) for v in yt], rotation=90, va="center")
style_axes(ax1)
ax1.tick_params(axis="x", length=4.5, pad=6)
ax1.tick_params(axis="y", length=3.5, pad=3)
ax1.set_xlabel("NO2 measurements from station SUD3", fontsize=TEXT)
ax1.set_ylabel("NO2 measurements from sensor ASE10", fontsize=TEXT)
ax1.xaxis.set_label_coords(0.5, -0.085)
ax1.yaxis.set_label_coords(-0.074, 0.5)

# panel (b)
ax2 = fig.add_axes([0.5839, 0.1857, 0.4084, 0.788])
positions = [1, 2]
stats = [
    dict(med=m, q1=a, q3=b, whislo=lo, whishi=hi, cilo=cl, cihi=ch, fliers=[], label=g)
    for m, a, b, lo, hi, cl, ch, g in zip(
        box_med, box_q1, box_q3, box_whislo, box_whishi, notch_lo, notch_hi, groups
    )
]
bp = ax2.bxp(
    stats,
    positions=positions,
    widths=0.8,
    capwidths=0.385,
    shownotches=True,
    showfliers=False,
    patch_artist=True,
    boxprops=dict(edgecolor="#555555", linewidth=0.9),
    whiskerprops=dict(color="#777777", linewidth=0.6, linestyle="--"),
    capprops=dict(color="#555555", linewidth=1.0),
    medianprops=dict(color="#4a4a4a", linewidth=1.0),
)
for patch, color in zip(bp["boxes"], box_colors):
    patch.set_facecolor(color)
for line, pos in zip(bp["medians"], positions):
    line.set_xdata([pos - 0.4, pos + 0.4])

for pos, vals in zip(positions, [sud3_std, ase10_std]):
    offsets = ((np.arange(len(vals)) * 0.6180339887) % 1.0 - 0.5) * 0.19
    ax2.scatter(pos + offsets, vals, s=16, color="black", alpha=0.8, linewidths=0, zorder=3)

ax2.set_xlim(0.42, 2.58)
ax2.set_ylim(-2.72, 2.93)
ax2.set_xticks(positions)
ax2.set_xticklabels(groups)
ax2.set_yticks([-2, -1, 0, 1, 2])
ax2.set_yticklabels(["-2", "-1", "0", "1", "2"], rotation=90, va="center")
style_axes(ax2)
ax2.tick_params(axis="both", length=6, pad=5)
ax2.set_ylabel("Standardized Measurements", fontsize=TEXT)
ax2.yaxis.set_label_coords(-0.106, 0.5)

for label, xc in [("(a)", 215), ("(b)", 717)]:
    fig.text(xc / 906, 1 - 401 / 420, label, ha="center", va="center",
             fontsize=15, fontweight="bold", family=["Liberation Serif", "DejaVu Serif"])

fig.savefig("out.png", dpi=100)
